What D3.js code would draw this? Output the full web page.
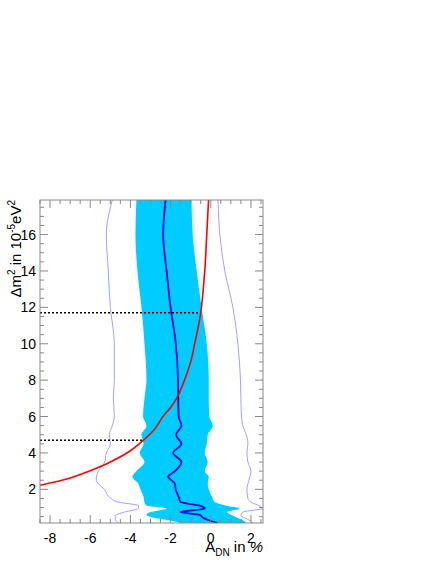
<!DOCTYPE html>
<html><head><meta charset="utf-8">
<script src="https://cdn.jsdelivr.net/npm/d3@7"></script>
<style>body{margin:0;background:#fff}text{font-family:"Liberation Sans",Arial,sans-serif}</style>
</head><body><div id="chart"></div>
<script>
// dm2 levels (10^-5 eV^2) and band edges / central line in %
const bandM     = [0.15, 0.3, 0.45, 0.6, 0.75, 0.95, 1.1, 1.3, 1.6, 2.0, 2.3, 2.7, 3.0, 3.5, 4.0, 4.5, 5.0, 5.5, 6.0, 7.0, 8.0, 10, 12, 14, 16, 17.9];
const bandLeft  = [-1.5, -2.1, -2.9, -3.2, -3.0, -2.2, -3.2, -3.3, -3.35, -3.5, -3.6, -3.9, -3.7, -3.3, -3.53, -3.35, -3.45, -3.2, -3.37, -3.3, -3.2, -3.3, -3.45, -3.65, -3.75, -3.7];
const bandRight = [1.77, 1.6, 1.3, 1.0, 0.8, 1.44, 0.77, 0.2, 0.05, -0.1, -0.15, -0.1, -0.3, -0.15, -0.3, -0.2, -0.15, 0.1, -0.07, -0.1, -0.1, -0.2, -0.46, -0.7, -0.9, -0.96];
const centre    = [0.35, -0.1, -0.4, -0.55, -1.5, -0.3, -0.55, -1.5, -1.6, -1.75, -1.78, -2.12, -1.78, -1.46, -1.87, -1.46, -1.73, -1.46, -1.6, -1.62, -1.63, -1.74, -2.0, -2.2, -2.37, -2.25];

const outerM     = [0.15, 0.35, 0.55, 0.75, 0.95, 1.1, 1.3, 1.5, 2.0, 2.5, 3.0, 3.5, 4.0, 4.5, 5.0, 5.5, 6.0, 7.0, 8.0, 10, 12, 14, 16, 17.9];
const outerLeft  = [-4.6, -4.75, -4.75, -4.3, -3.6, -3.6, -4.6, -4.97, -5.3, -5.7, -5.6, -5.28, -5.2, -5.0, -5.05, -4.9, -4.8, -4.85, -4.8, -4.8, -5.0, -5.1, -5.2, -4.9];
const outerRight = [2.1, 1.85, 1.5, 1.6, 2.6, 2.4, 2.0, 1.85, 1.8, 1.9, 2.0, 1.85, 1.8, 1.85, 1.77, 1.6, 1.53, 1.5, 1.48, 1.35, 1.1, 0.7, 0.45, 0.36];

const redX = [-8.5, -7, -6, -5, -4, -3.35, -2.8, -2.38, -2.0, -1.7, -1.41, -1.0, -0.8, -0.5, -0.3, -0.2, -0.11];
const redM = [2.22, 2.62, 3.02, 3.5, 4.12, 4.7, 5.3, 6.0, 6.5, 7.0, 7.7, 9.0, 10, 11.7, 14, 16, 17.9];

const cuts = [{m: 11.7, x: -0.5}, {m: 4.7, x: -3.35}];
const xTicks = [-8, -6, -4, -2, 0, 2];
const yTicks = [2, 4, 6, 8, 10, 12, 14, 16];

const W = 436, H = 564;
const L = 40, R = 263, T = 200, B = 523;
const x = d3.scaleLinear().domain([-8.5, 2.6]).range([L, R]);
const y = d3.scaleLinear().domain([0.15, 17.9]).range([B, T]);

const svg = d3.select("#chart").append("svg").attr("width", W).attr("height", H);
svg.append("defs").append("clipPath").attr("id", "clip")
    .append("rect").attr("x", L).attr("y", T).attr("width", R - L).attr("height", B - T);
const plot = svg.append("g").attr("clip-path", "url(#clip)");

const band = bandM.map((m, i) => ({m, l: bandLeft[i], r: bandRight[i], c: centre[i]}));
plot.append("path").datum(band)
    .attr("d", d3.area().curve(d3.curveMonotoneY).y(d => y(d.m)).x0(d => x(d.l)).x1(d => x(d.r)))
    .attr("fill", "#00ccff");

const outer = outerM.map((m, i) => ({m, l: outerLeft[i], r: outerRight[i]}));
["l", "r"].forEach(k => {
    plot.append("path").datum(outer)
        .attr("d", d3.line().curve(d3.curveMonotoneY).y(d => y(d.m)).x(d => x(d[k])))
        .attr("fill", "none").attr("stroke", "#8888ff").attr("stroke-width", 0.8);
});

plot.append("path").datum(band)
    .attr("d", d3.line().curve(d3.curveMonotoneY).y(d => y(d.m)).x(d => x(d.c)))
    .attr("fill", "none").attr("stroke", "#0000dd").attr("stroke-width", 1.8);

cuts.forEach(c => {
    plot.append("line").attr("x1", x(-8.5)).attr("x2", x(c.x)).attr("y1", y(c.m)).attr("y2", y(c.m))
        .attr("stroke", "#000").attr("stroke-width", 1.6).attr("stroke-dasharray", "2,2");
});

plot.append("path").datum(redX.map((v, i) => [v, redM[i]]))
    .attr("d", d3.line().curve(d3.curveCatmullRom).x(d => x(d[0])).y(d => y(d[1])))
    .attr("fill", "none").attr("stroke", "#ff0000").attr("stroke-width", 1.6);

// frame and ticks on all sides
const axc = "#888";
svg.append("rect").attr("x", L).attr("y", T).attr("width", R - L).attr("height", B - T)
    .attr("fill", "none").attr("stroke", axc);
const xMinor = d3.range(-8.5, 2.6, 0.5), yMinor = d3.range(0.5, 17.9, 0.5);
xMinor.forEach(v => {
    const len = Number.isInteger(v / 2) ? 8 : 4;
    [[B, -len], [T, len]].forEach(([y0, d]) => svg.append("line").attr("x1", x(v)).attr("x2", x(v))
        .attr("y1", y0).attr("y2", y0 + d).attr("stroke", axc));
});
yMinor.forEach(v => {
    const len = Number.isInteger(v / 2) ? 8 : 4;
    [[L, len], [R, -len]].forEach(([x0, d]) => svg.append("line").attr("y1", y(v)).attr("y2", y(v))
        .attr("x1", x0).attr("x2", x0 + d).attr("stroke", axc));
});
xTicks.forEach(v => svg.append("text").attr("x", x(v)).attr("y", B + 20).attr("text-anchor", "middle")
    .attr("font-size", 14).text(v));
yTicks.forEach(v => svg.append("text").attr("x", L - 4).attr("y", y(v) + 5).attr("text-anchor", "end")
    .attr("font-size", 14).text(v));

const xl = svg.append("text").attr("x", R).attr("y", 552).attr("text-anchor", "end").attr("font-size", 15);
xl.append("tspan").text("A");
xl.append("tspan").attr("font-size", 10).attr("dy", 4).text("DN");
xl.append("tspan").attr("dy", -4).text(" in ");
xl.append("tspan").attr("font-style", "italic").text("%");

const yl = svg.append("text").attr("transform", `translate(21,${T}) rotate(-90)`)
    .attr("text-anchor", "end").attr("font-size", 15);
yl.append("tspan").text("Δm");
yl.append("tspan").attr("font-size", 10).attr("dy", -6).text("2");
yl.append("tspan").attr("dy", 6).text(" in 10");
yl.append("tspan").attr("font-size", 10).attr("dy", -6).text("-5");
yl.append("tspan").attr("dy", 6).text("eV");
yl.append("tspan").attr("font-size", 10).attr("dy", -6).text("2");
</script></body></html>
